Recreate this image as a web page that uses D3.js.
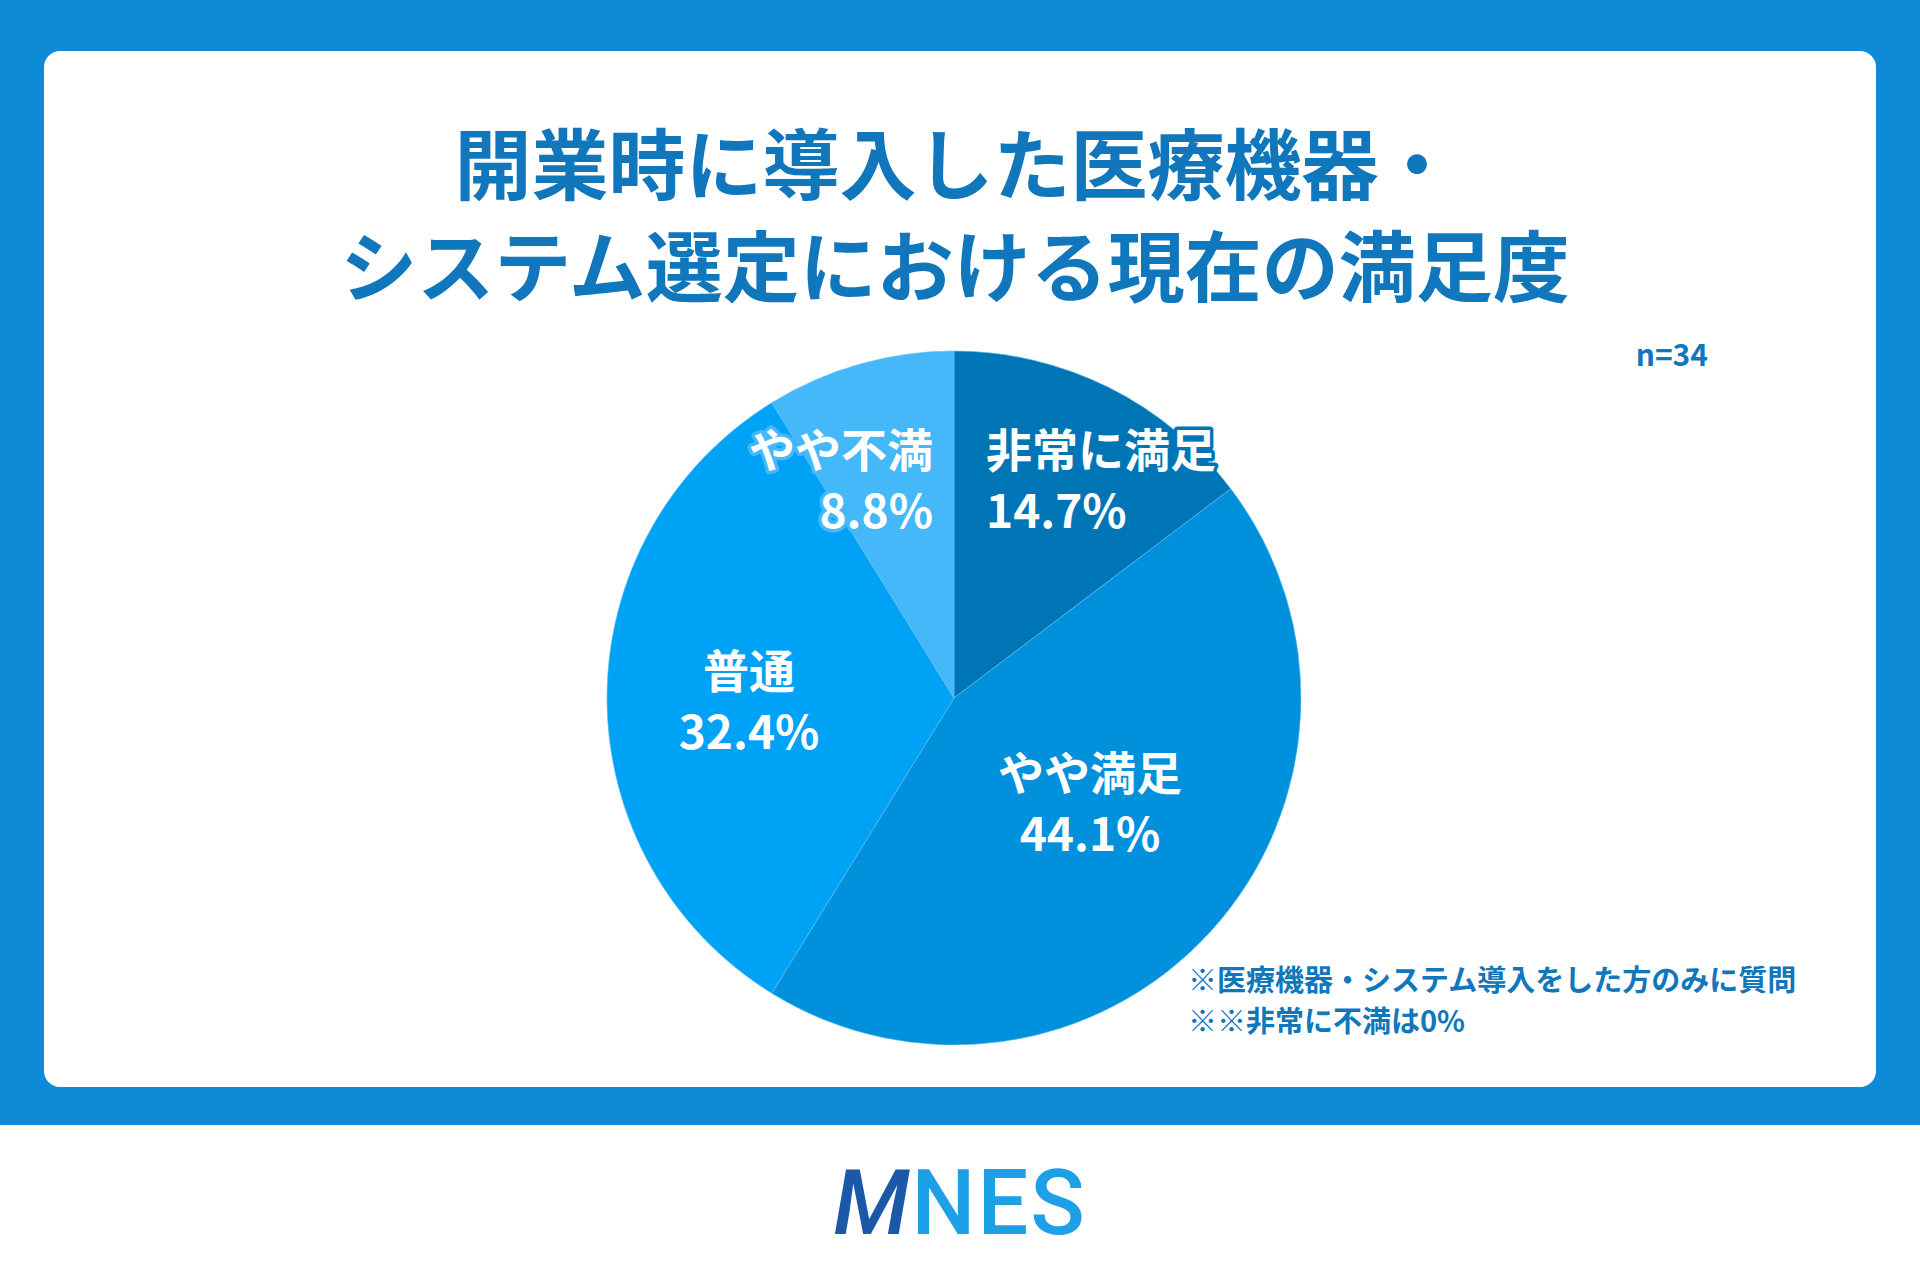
<!DOCTYPE html>
<html><head><meta charset="utf-8">
<script src="https://cdn.jsdelivr.net/npm/d3@7"></script>
<style>body{margin:0;background:#fff}svg{display:block;font-family:"Noto Sans CJK JP","Noto Sans",sans-serif}</style>
</head><body><div id="chart"></div>
<script>
// Data
const categories = ["非常に満足", "やや満足", "普通", "やや不満"];
const percentages = [14.7, 44.1, 32.4, 8.8];
const colors = ["#0075b6", "#0090dc", "#00a2f5", "#45b8fa"];
const titleLines = ["開業時に導入した医療機器・", "システム選定における現在の満足度"];
const notes = ["※医療機器・システム導入をした方のみに質問", "※※非常に不満は0%"];

const width = 1920, height = 1280;
const cx = 954, cy = 698, radius = 347;
// label placement relative to pie centre
const labelPos = {
  "非常に満足": { dx: 32, dy: -231, anchor: "start" },
  "やや満足": { dx: 136, dy: 92, anchor: "middle" },
  "普通": { dx: -205, dy: -10, anchor: "middle" },
  "やや不満": { dx: -21, dy: -231, anchor: "end" }
};

const svg = d3.select("#chart").append("svg")
  .attr("width", width).attr("height", height);

// Background frame
svg.append("rect").attr("width", width).attr("height", 1125).attr("fill", "#0f8ad6");
svg.append("rect").attr("x", 44).attr("y", 51).attr("width", 1832).attr("height", 1036)
  .attr("rx", 16).attr("fill", "#fff");

// Title
svg.append("g").selectAll("text").data(titleLines).enter().append("text")
  .attr("x", 955).attr("y", (d, i) => 194 + i * 102)
  .attr("text-anchor", "middle")
  .style("font-size", "77px").style("font-weight", 700).style("fill", "#1077bd")
  .text(d => d);

svg.append("text").attr("x", 1708).attr("y", 366).attr("text-anchor", "end")
  .style("font-size", "30px").style("font-weight", 700).style("fill", "#1077bd")
  .text("n=34");

// Pie
const data = categories.map((c, i) => ({ name: c, value: percentages[i], color: colors[i] }));
const pie = d3.pie().value(d => d.value).sort(null);
const arc = d3.arc().innerRadius(0).outerRadius(radius);
const slices = pie(data);

const g = svg.append("g").attr("transform", `translate(${cx},${cy})`);

g.selectAll("path").data(slices).enter().append("path")
  .attr("d", arc)
  .attr("fill", d => d.data.color)
  .attr("stroke", "#5cc0f5")
  .attr("stroke-opacity", 0.6)
  .style("stroke-width", "1px");

// labels drawn above every slice, outlined in their slice colour
const labels = g.selectAll(".label").data(slices).enter().append("text")
  .attr("class", "label")
  .attr("transform", d => `translate(${labelPos[d.data.name].dx},${labelPos[d.data.name].dy})`)
  .attr("text-anchor", d => labelPos[d.data.name].anchor)
  .style("fill", "white").style("font-size", "46px").style("font-weight", 700)
  .style("paint-order", "stroke").style("stroke", d => d.data.color)
  .style("stroke-width", "7px").style("stroke-linejoin", "round");
labels.append("tspan").attr("x", 0).attr("y", 0).text(d => d.data.name);
labels.append("tspan").attr("x", 0).attr("y", 61).text(d => d.data.value.toFixed(1) + "%");

// Notes
svg.append("g").selectAll("text").data(notes).enter().append("text")
  .attr("x", 1188).attr("y", (d, i) => 991 + i * 41)
  .style("font-size", "29px").style("font-weight", 700).style("fill", "#1077bd")
  .text(d => d);

// Logo
const logo = svg.append("text").attr("x", 960).attr("y", 1234).attr("text-anchor", "middle")
  .style("font-family", "Roboto, 'DejaVu Sans', sans-serif")
  .style("font-size", "90px").style("font-weight", 500).style("letter-spacing", "2px");
logo.append("tspan").attr("fill", "#1b58a8").style("font-style", "italic").text("M");
logo.append("tspan").attr("fill", "#1ea0e6").text("NES");
</script></body></html>
